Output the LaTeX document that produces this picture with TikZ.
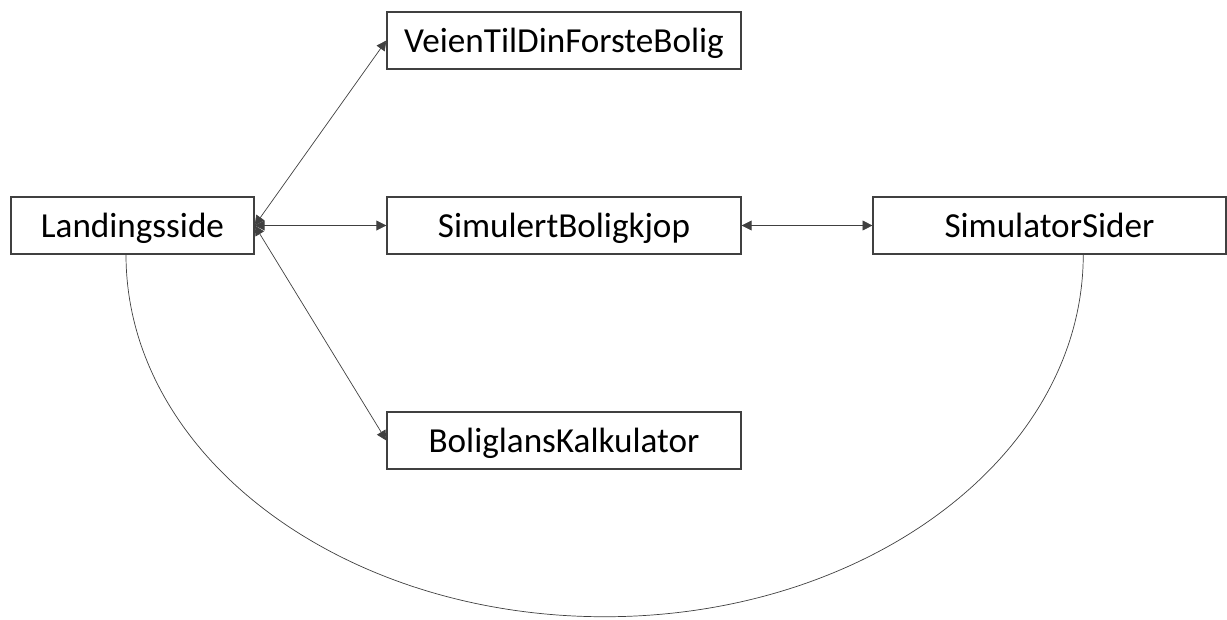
\documentclass[tikz,border=0pt]{standalone}
\usepackage{fontspec}
\setmainfont{Carlito}
\usetikzlibrary{arrows.meta}

\tikzset{
    page/.style={x=0.025cm, y=-0.025cm},
    pagebox/.style={draw=black!75, line width=0.9pt, inner sep=0pt,
        minimum height=1.425cm, text height=20pt, text depth=3.6pt,
        font=\fontsize{25}{29}\selectfont},
    link/.style={draw=black!75, line width=0.5pt,
        {Triangle[length=7pt, width=7pt]}-{Triangle[length=7pt, width=7pt]}}
}

\begin{document}
\begin{tikzpicture}[page]
    \useasboundingbox (0,0) rectangle (1227,619);

    % The pages
    \node[pagebox, minimum width=6.075cm] (land) at (132.5,225.5) {Landingsside};
    \node[pagebox, minimum width=8.85cm] (veien) at (564,40.5) {VeienTilDinForsteBolig};
    \node[pagebox, minimum width=8.85cm] (simkjop) at (564,225.5) {SimulertBoligkjop};
    \node[pagebox, minimum width=8.85cm] (boliglan) at (564,440.5) {BoliglansKalkulator};
    \node[pagebox, minimum width=8.82cm] (simsider) at (1049.5,225.5) {SimulatorSider};

    % Navigation between pages
    \draw[link] (land.east) -- (veien.west);
    \draw[link] (land.east) -- (simkjop.west);
    \draw[link] (land.east) -- (boliglan.west);
    \draw[link] (simkjop.east) -- (simsider.west);

    % Back from the simulator to the landing page
    \draw[black!75, line width=0.5pt] (land.south) ++(-6.5,0)
        arc[start angle=180, end angle=360, x radius=11.9625cm, y radius=9.05cm];
\end{tikzpicture}
\end{document}
